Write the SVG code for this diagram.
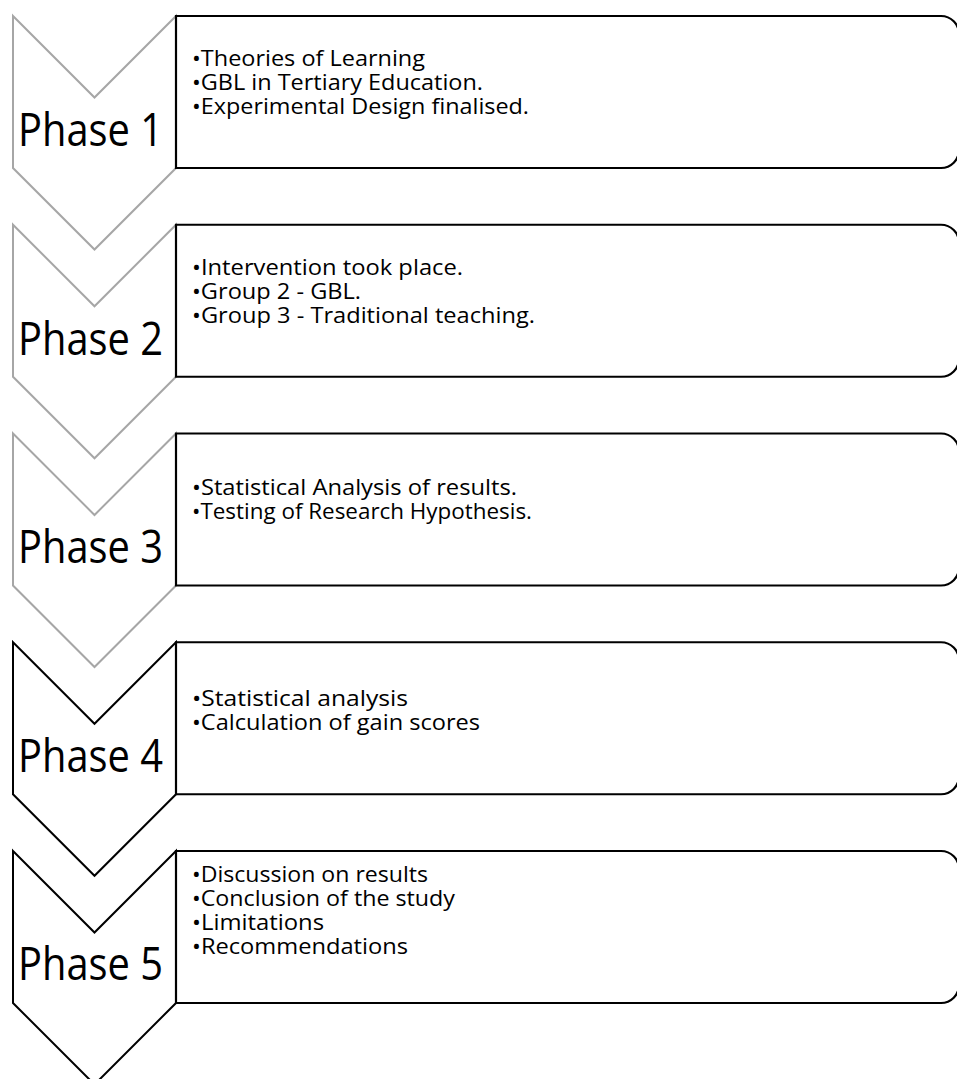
<svg xmlns="http://www.w3.org/2000/svg" width="957" height="1079" viewBox="0 0 957 1079">
<defs>
<style>
.chev{fill:#FFFFFF;stroke-width:2;stroke-linejoin:miter}
.gray{stroke:#A6A6A6}
.blk{stroke:#000000}
.box{fill:#FFFFFF;stroke:#000000;stroke-width:2.2}
.ph{font-family:"Open Sans","Liberation Sans",sans-serif;font-size:45px;fill:#000000}
.tx{font-family:"Open Sans","Liberation Sans",sans-serif;font-size:21.5px;fill:#000000}
</style>
</defs>
<rect x="0" y="0" width="957" height="1079" fill="#FFFFFF"/>
<g id="phase1">
<path class="chev gray" d="M13,16 L94.5,97.5 L176,16 L176,168 L94.5,249.5 L13,168 Z"/>
<path class="box" d="M176,16 H941 A18,18 0 0 1 959,34 V150 A18,18 0 0 1 941,168 H176 Z"/>
<text class="ph" x="18" y="146" textLength="145" lengthAdjust="spacingAndGlyphs">Phase 1</text>
<text class="tx" x="192" y="66" textLength="233" lengthAdjust="spacingAndGlyphs">•Theories of Learning</text>
<text class="tx" x="192" y="90" textLength="291" lengthAdjust="spacingAndGlyphs">•GBL in Tertiary Education.</text>
<text class="tx" x="192" y="114" textLength="337" lengthAdjust="spacingAndGlyphs">•Experimental Design finalised.</text>
</g>
<g id="phase2">
<path class="chev gray" d="M13,224.75 L94.5,306.25 L176,224.75 L176,376.75 L94.5,458.25 L13,376.75 Z"/>
<path class="box" d="M176,224.75 H941 A18,18 0 0 1 959,242.75 V358.75 A18,18 0 0 1 941,376.75 H176 Z"/>
<text class="ph" x="18" y="355" textLength="145" lengthAdjust="spacingAndGlyphs">Phase 2</text>
<text class="tx" x="192" y="275" textLength="271" lengthAdjust="spacingAndGlyphs">•Intervention took place.</text>
<text class="tx" x="192" y="299" textLength="169" lengthAdjust="spacingAndGlyphs">•Group 2 - GBL.</text>
<text class="tx" x="192" y="323" textLength="343" lengthAdjust="spacingAndGlyphs">•Group 3 - Traditional teaching.</text>
</g>
<g id="phase3">
<path class="chev gray" d="M13,433.5 L94.5,515 L176,433.5 L176,585.5 L94.5,667 L13,585.5 Z"/>
<path class="box" d="M176,433.5 H941 A18,18 0 0 1 959,451.5 V567.5 A18,18 0 0 1 941,585.5 H176 Z"/>
<text class="ph" x="18" y="563" textLength="145" lengthAdjust="spacingAndGlyphs">Phase 3</text>
<text class="tx" x="192" y="495" textLength="325" lengthAdjust="spacingAndGlyphs">•Statistical Analysis of results.</text>
<text class="tx" x="192" y="519" textLength="340" lengthAdjust="spacingAndGlyphs">•Testing of Research Hypothesis.</text>
</g>
<g id="phase4">
<path class="chev blk" d="M13,642.25 L94.5,723.75 L176,642.25 L176,794.25 L94.5,875.75 L13,794.25 Z"/>
<path class="box" d="M176,642.25 H941 A18,18 0 0 1 959,660.25 V776.25 A18,18 0 0 1 941,794.25 H176 Z"/>
<text class="ph" x="18" y="772" textLength="145" lengthAdjust="spacingAndGlyphs">Phase 4</text>
<text class="tx" x="192" y="706" textLength="216" lengthAdjust="spacingAndGlyphs">•Statistical analysis</text>
<text class="tx" x="192" y="730" textLength="288" lengthAdjust="spacingAndGlyphs">•Calculation of gain scores</text>
</g>
<g id="phase5">
<path class="chev blk" d="M13,851 L94.5,932.5 L176,851 L176,1003 L94.5,1084.5 L13,1003 Z"/>
<path class="box" d="M176,851 H941 A18,18 0 0 1 959,869 V985 A18,18 0 0 1 941,1003 H176 Z"/>
<text class="ph" x="18" y="980" textLength="145" lengthAdjust="spacingAndGlyphs">Phase 5</text>
<text class="tx" x="192" y="882" textLength="236" lengthAdjust="spacingAndGlyphs">•Discussion on results</text>
<text class="tx" x="192" y="906" textLength="263" lengthAdjust="spacingAndGlyphs">•Conclusion of the study</text>
<text class="tx" x="192" y="930" textLength="132" lengthAdjust="spacingAndGlyphs">•Limitations</text>
<text class="tx" x="192" y="954" textLength="216" lengthAdjust="spacingAndGlyphs">•Recommendations</text>
</g>
<g id="connectors"></g>
</svg>
